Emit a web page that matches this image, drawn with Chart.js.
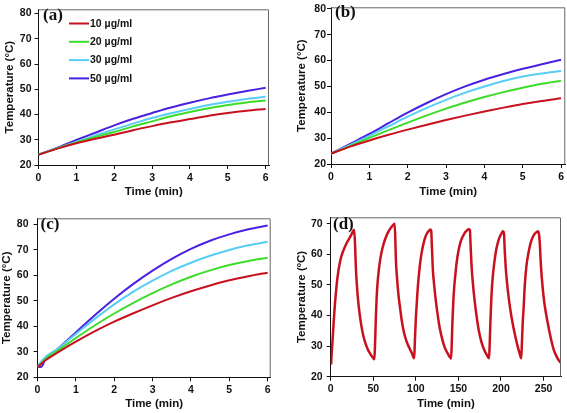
<!DOCTYPE html>
<html>
<head>
<meta charset="utf-8">
<script src="https://cdn.jsdelivr.net/npm/chart.js@4.4.1/dist/chart.umd.min.js"></script>
<style>
  html, body { margin: 0; padding: 0; background: #fff; }
  body { width: 567px; height: 413px; position: relative; overflow: hidden; }
  .panel { position: absolute; }
  .panel canvas { display: block; }
</style>
</head>
<body>
<div class="panel" style="left:0;top:0"><canvas id="chart-a" width="283" height="207"></canvas></div>
<div class="panel" style="left:283px;top:0"><canvas id="chart-b" width="284" height="207"></canvas></div>
<div class="panel" style="left:0;top:207px"><canvas id="chart-c" width="283" height="206"></canvas></div>
<div class="panel" style="left:283px;top:207px"><canvas id="chart-d" width="284" height="206"></canvas></div>
<script>
(function () {
  'use strict';

  // ---- data ----
  var seriesLabels = ['10 µg/ml', '20 µg/ml', '30 µg/ml', '50 µg/ml'];

  var timeAB = [0, 0.5, 1, 1.5, 2, 2.5, 3, 3.5, 4, 4.5, 5, 5.5, 6];
  var aRed   = [24.1, 26.5, 28.6, 30.4, 32.0, 33.8, 35.4, 36.9, 38.2, 39.5, 40.6, 41.5, 42.2];
  var aGreen = [24.1, 26.6, 28.9, 31.1, 33.1, 35.3, 37.3, 39.3, 41.0, 42.5, 43.8, 44.8, 45.6];
  var aCyan  = [24.1, 26.7, 29.2, 31.7, 34.1, 36.4, 38.6, 40.5, 42.2, 43.8, 45.1, 46.2, 47.0];
  var aBlue  = [24.1, 26.9, 29.9, 32.8, 35.7, 38.3, 40.6, 42.8, 44.7, 46.4, 47.9, 49.3, 50.6];

  var bRed   = [24, 26.7, 29.1, 31.3, 33.3, 35.2, 37.0, 38.7, 40.3, 41.8, 43.2, 44.4, 45.4];
  var bGreen = [24, 27.0, 30.1, 33.1, 36.0, 38.8, 41.4, 43.8, 45.9, 47.8, 49.5, 51.0, 52.2];
  var bCyan  = [24, 27.4, 30.9, 34.6, 38.3, 41.7, 44.8, 47.6, 50.0, 52.1, 53.8, 55.0, 56.0];
  var bBlue  = [24, 27.8, 31.6, 35.8, 39.9, 43.6, 47.0, 50.0, 52.6, 54.8, 56.8, 58.6, 60.3];

  var timeC  = [0, 0.1, 0.2, 0.3, 0.5, 1, 1.5, 2, 2.5, 3, 3.5, 4, 4.5, 5, 5.5, 6];
  var cRed   = [24, 25.3, 26.6, 27.6, 29.5, 34.0, 38.1, 41.8, 45.1, 48.2, 51.1, 53.7, 56.0, 58.0, 59.6, 61.0];
  var cGreen = [24, 25.5, 27.1, 28.3, 30.2, 35.4, 40.4, 45.0, 49.2, 53.0, 56.4, 59.4, 61.9, 64.0, 65.6, 66.8];
  var cCyan  = [24, 26.2, 27.9, 29.0, 30.9, 37.0, 43.0, 48.6, 53.6, 57.9, 61.7, 64.9, 67.6, 69.9, 71.7, 73.1];
  var cBlue  = [24, 24.1, 27.0, 28.6, 30.8, 37.6, 44.4, 50.8, 56.6, 61.8, 66.4, 70.3, 73.5, 76.0, 78.0, 79.5];

  var cycleTime = [
    0.5, 1, 2, 3, 4, 5, 6, 7, 8, 9, 10, 12, 14, 16, 18, 20, 22, 24, 26, 27.5,
    28.5, 29.5, 30.5, 32, 34, 36, 38, 40, 42, 44, 46, 48, 50, 51.3,
    52, 53, 54, 55, 56, 58, 60, 62, 64, 66, 68, 70, 72, 74, 75,
    75.8, 76.6, 78, 79.5, 81.5, 83.5, 86, 89, 92, 95, 98,
    98.8, 100, 101, 102, 103, 105, 107, 109, 111, 113, 115, 117, 118,
    118.8, 120, 121.5, 123, 125, 128, 131, 134, 137, 139.5, 141.4,
    142.2, 143, 144, 145, 146.5, 148, 150, 152, 154, 156, 158, 160, 162, 163.5,
    164.3, 165.5, 167, 169, 171, 174, 177, 180, 183, 186,
    186.8, 187.6, 188.6, 189.6, 191, 193, 195, 197, 199, 201, 202.2, 203.5,
    204.3, 205.5, 207, 209, 211.5, 214, 217, 220, 222, 223.8,
    224.6, 225.6, 226.6, 228, 230, 232, 234, 236, 238, 240, 242, 243.5,
    244.5, 245.5, 247, 249, 251, 253, 256, 259, 262, 265, 268, 270.5
  ];
  var cycleTemp = [
    24, 27, 31, 35.5, 40, 43.8, 47, 50, 52.5, 54.5, 56.2, 58.8, 60.6, 62, 63.2, 64.3, 65.3, 66.3, 67.4, 68,
    64, 56, 51, 45.5, 40.5, 36.7, 33.8, 31.6, 30, 28.7, 27.7, 26.8, 26.1, 25.7,
    30, 39, 46, 50.5, 53.5, 58, 61, 63.3, 65, 66.4, 67.5, 68.4, 69.2, 69.8, 70,
    66, 58, 52, 47, 42.5, 38.3, 34.5, 31.6, 29.6, 27.9, 26,
    31, 39, 43.5, 48, 51.5, 57, 60.8, 63.5, 65.5, 66.8, 67.6, 68.1, 67.8,
    63, 55, 50, 46, 41.5, 36, 32.3, 29.5, 27.8, 26.6, 25.9,
    31, 38, 44.5, 49, 53.5, 57.5, 61, 63.5, 65.2, 66.3, 67.2, 67.8, 68.2, 68,
    63, 56, 50.5, 45, 40.5, 35, 31.4, 29, 27.3, 26,
    31, 38, 45, 50, 54.5, 59, 62.3, 64.5, 66, 67, 67.5, 66.8,
    62, 56, 51, 46, 41, 37, 33, 29.5, 27.5, 26,
    31, 38, 42.5, 50, 56.5, 60, 62.8, 64.7, 66, 66.8, 67.3, 67.5,
    66.8, 64, 56, 49, 44, 40.5, 36, 32, 28.8, 26.8, 25.3, 24.5
  ];

  var minuteTicks = [0, 1, 2, 3, 4, 5, 6];
  var cycleTicks = [0, 50, 100, 150, 200, 250];
  var tempTicksTo80 = [20, 30, 40, 50, 60, 70, 80];
  var tempTicksTo70 = [20, 30, 40, 50, 60, 70];

  // ---- styling ----
  var seriesColors = ['#c8101e', '#3ddc2a', '#58cdf6', '#4a20e2'];
  var SANS = "'Liberation Sans', Arial, sans-serif";
  var SERIF = "'Liberation Serif', 'Times New Roman', serif";

  function points(xs, ys) {
    return xs.map(function (x, i) { return { x: x, y: ys[i] }; });
  }

  function concentrationSets(xs, groups) {
    return groups.map(function (ys, i) {
      return {
        label: seriesLabels[i],
        data: points(xs, ys),
        borderColor: seriesColors[i],
        borderWidth: 2,
        pointRadius: 0,
        cubicInterpolationMode: 'monotone'
      };
    });
  }

  function fixedTicks(values) {
    return function (scale) {
      scale.ticks = values.map(function (v) { return { value: v }; });
    };
  }

  var framePlugin = {
    id: 'frame',
    afterDraw: function (chart, args, opts) {
      var a = chart.chartArea;
      var ctx = chart.ctx;
      ctx.save();
      ctx.strokeStyle = '#666';
      ctx.lineWidth = 1;
      ctx.beginPath();
      ctx.moveTo(a.left, a.top + 0.5);
      ctx.lineTo(a.right - 0.5, a.top + 0.5);
      ctx.lineTo(a.right - 0.5, a.bottom);
      ctx.stroke();
      ctx.fillStyle = '#111';
      ctx.font = 'bold 17px ' + SERIF;
      ctx.textBaseline = 'middle';
      ctx.textAlign = 'left';
      ctx.fillText(opts.text, opts.x, opts.y);
      ctx.restore();
    }
  };

  var keyPlugin = {
    id: 'key',
    afterDraw: function (chart, args, opts) {
      if (!opts.show) return;
      var ctx = chart.ctx;
      ctx.save();
      ctx.font = 'bold 10.5px ' + SANS;
      ctx.textBaseline = 'middle';
      ctx.textAlign = 'left';
      chart.data.datasets.forEach(function (ds, i) {
        var y = opts.y + i * opts.gap;
        ctx.strokeStyle = ds.borderColor;
        ctx.lineWidth = 2;
        ctx.beginPath();
        ctx.moveTo(opts.x, y);
        ctx.lineTo(opts.x + 20, y);
        ctx.stroke();
        ctx.fillStyle = '#111';
        ctx.fillText(ds.label, opts.x + 21, y + 0.5);
      });
      ctx.restore();
    }
  };

  function makePanel(id, p) {
    return new Chart(document.getElementById(id), {
      type: 'line',
      data: { datasets: p.datasets },
      plugins: [framePlugin, keyPlugin],
      options: {
        responsive: false,
        animation: false,
        events: [],
        layout: { padding: { left: 0, top: p.top, right: p.right, bottom: 0 } },
        scales: {
          x: {
            type: 'linear',
            min: 0,
            max: p.xMax,
            afterBuildTicks: fixedTicks(p.xTicks),
            afterFit: function (s) { s.height = p.xHeight; },
            ticks: { color: '#111', padding: p.xTickPad, maxRotation: 0, autoSkip: false,
              font: { family: SANS, size: 10.5, weight: 'bold' } },
            grid: { drawOnChartArea: false, drawTicks: true, tickLength: 4, color: '#111' },
            border: { color: '#111', width: 1 },
            title: { display: true, text: 'Time (min)', color: '#111', padding: { top: 0, bottom: p.xTitlePad },
              font: { family: SANS, size: 11.5, weight: 'bold' } }
          },
          y: {
            type: 'linear',
            min: 20,
            max: p.yMax,
            afterBuildTicks: fixedTicks(p.yTicks),
            afterFit: function (s) { s.width = p.yWidth; },
            ticks: { color: '#111', padding: p.yTickPad, autoSkip: false,
              font: { family: SANS, size: 10.5, weight: 'bold' } },
            grid: { drawOnChartArea: false, drawTicks: true, tickLength: 4, color: '#111' },
            border: { color: '#111', width: 1 },
            title: { display: true, text: p.yTitle, color: '#111', padding: { top: p.yTitlePad, bottom: 0 },
              font: { family: SANS, size: 11.5, weight: 'bold' } }
          }
        },
        plugins: {
          legend: { display: false },
          tooltip: { enabled: false },
          frame: { text: p.label, x: p.labelX, y: p.labelY },
          key: { show: !!p.key, x: 69, y: 23.5, gap: 18.3 }
        }
      }
    });
  }

  makePanel('chart-a', {
    datasets: concentrationSets(timeAB, [aRed, aGreen, aCyan, aBlue]),
    xMax: 6.09, yMax: 81.7, xTicks: minuteTicks, yTicks: tempTicksTo80,
    top: 5, right: 14, xHeight: 42, yWidth: 38.5,
    xTickPad: 3, xTitlePad: 8, yTickPad: 3, yTitlePad: 3,
    yTitle: 'Temperature (°C)', label: '(a)', labelX: 43, labelY: 16, key: true
  });

  makePanel('chart-b', {
    datasets: concentrationSets(timeAB, [bRed, bGreen, bCyan, bBlue]),
    xMax: 6.11, yMax: 80.6, xTicks: minuteTicks, yTicks: tempTicksTo80,
    top: 5, right: 1, xHeight: 43, yWidth: 48,
    xTickPad: 3, xTitlePad: 8, yTickPad: 1, yTitlePad: 11.8,
    yTitle: 'Temperature (°C)', label: '(b)', labelX: 52, labelY: 13
  });

  makePanel('chart-c', {
    datasets: concentrationSets(timeC, [cRed, cGreen, cCyan, cBlue]),
    xMax: 6.08, yMax: 82.3, xTicks: minuteTicks, yTicks: tempTicksTo80,
    top: 7, right: 12.3, xHeight: 35.7, yWidth: 37.5,
    xTickPad: 2.5, xTitlePad: 2, yTickPad: 5, yTitlePad: 0.4,
    yTitle: 'Temperature (°C)', label: '(c)', labelX: 40.5, labelY: 18
  });

  makePanel('chart-d', {
    datasets: [{
      label: 'cycles',
      data: points(cycleTime, cycleTemp),
      borderColor: '#c8101e',
      borderWidth: 2.5,
      pointRadius: 0,
      cubicInterpolationMode: 'monotone'
    }],
    xMax: 270.5, yMax: 72.1, xTicks: cycleTicks, yTicks: tempTicksTo70,
    top: 7, right: 6, xHeight: 36.3, yWidth: 47.7,
    xTickPad: 2.5, xTitlePad: 2, yTickPad: 4, yTitlePad: 11.8,
    yTitle: 'Temperature (ºC)', label: '(d)', labelX: 50, labelY: 18
  });
})();
</script>
</body>
</html>
